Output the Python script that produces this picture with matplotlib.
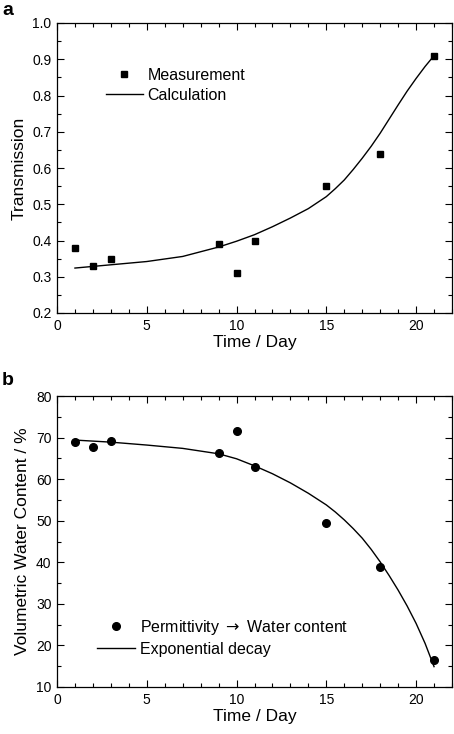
import matplotlib
matplotlib.use("Agg")
import matplotlib.pyplot as plt
from matplotlib.ticker import MultipleLocator

plt.rcParams['font.family'] = ['Liberation Sans', 'DejaVu Sans']

# Panel a: transmission
day_a = [1, 2, 3, 9, 10, 11, 15, 18, 21]
trans_meas = [0.38, 0.33, 0.35, 0.39, 0.31, 0.40, 0.55, 0.64, 0.91]
calc_day = [1, 3, 5, 7, 9, 10, 11, 12, 13, 14, 15, 15.5, 16, 16.5, 17, 17.5,
            18, 18.5, 19, 19.5, 20, 20.5, 21]
trans_calc = [0.324, 0.333, 0.342, 0.356, 0.382, 0.398, 0.416, 0.438, 0.462,
              0.488, 0.521, 0.543, 0.567, 0.596, 0.627, 0.660, 0.696, 0.735,
              0.774, 0.812, 0.847, 0.880, 0.910]

# Panel b: volumetric water content
day_b = [1, 2, 3, 9, 10, 11, 15, 18, 21]
vwc_meas = [69.0, 67.8, 69.2, 66.4, 71.7, 62.9, 49.5, 38.8, 16.5]
decay_day = [1, 3, 5, 7, 9, 10, 11, 12, 13, 14, 15, 15.5, 16, 16.5, 17, 17.5,
             18, 18.5, 19, 19.5, 20, 20.5, 21]
vwc_decay = [69.4, 68.9, 68.2, 67.4, 66.1, 64.9, 63.2, 61.3, 59.1, 56.6, 53.8,
             52.1, 50.2, 48.1, 45.8, 43.1, 40.1, 36.8, 33.3, 29.5, 25.3, 20.5,
             14.9]

fig = plt.figure(figsize=(4.54, 7.34), dpi=100)
W, H = 454, 734
ax1 = fig.add_axes([57 / W, 1 - 313 / H, 395 / W, 290 / H])
ax2 = fig.add_axes([57 / W, 1 - 687 / H, 395 / W, 291 / H])


def style(ax):
    ax.tick_params(which='both', direction='in', top=True, right=True,
                   labelsize=10, width=0.8)
    ax.tick_params(which='major', length=5, pad=4)
    ax.tick_params(which='minor', length=3)
    for s in ax.spines.values():
        s.set_linewidth(0.9)
    ax.set_xlim(0, 22)
    ax.xaxis.set_major_locator(MultipleLocator(5))
    ax.xaxis.set_minor_locator(MultipleLocator(1))
    ax.set_xlabel("Time / Day", fontsize=12.5, labelpad=2)


ax1.plot(day_a, trans_meas, 's', color='black', markersize=4.5, label="Measurement")
ax1.plot(calc_day, trans_calc, '-', color='black', linewidth=1.0, label="Calculation")
style(ax1)
ax1.set_ylim(0.2, 1.0)
ax1.yaxis.set_major_locator(MultipleLocator(0.1))
ax1.yaxis.set_minor_locator(MultipleLocator(0.05))
ax1.set_ylabel("Transmission", fontsize=12.5, labelpad=4)
ax1.legend(loc='upper left', bbox_to_anchor=(0.124, 0.845), frameon=False,
           fontsize=11.5, handlelength=2.3, handletextpad=0.3,
           labelspacing=0.3, borderaxespad=0, borderpad=0)

ax2.plot(day_b, vwc_meas, 'o', color='black', markersize=5.5,
         label="Permittivity $\\rightarrow$ Water content")
ax2.plot(decay_day, vwc_decay, '-', color='black', linewidth=1.0,
         label="Exponential decay")
style(ax2)
ax2.set_ylim(10, 80)
ax2.yaxis.set_major_locator(MultipleLocator(10))
ax2.yaxis.set_minor_locator(MultipleLocator(5))
ax2.set_ylabel("Volumetric Water Content / %", fontsize=12.5, labelpad=4)
ax2.legend(loc='upper left', bbox_to_anchor=(0.101, 0.238), frameon=False,
           fontsize=11.5, handlelength=2.4, handletextpad=0.3,
           labelspacing=0.3, borderaxespad=0, borderpad=0)

fig.text(2 / W, 1 - 2 / H, "a", fontsize=14, fontweight='bold', va='top', ha='left')
fig.text(2 / W, 1 - 372 / H, "b", fontsize=14, fontweight='bold', va='top', ha='left')

fig.savefig("out.png", dpi=100)
